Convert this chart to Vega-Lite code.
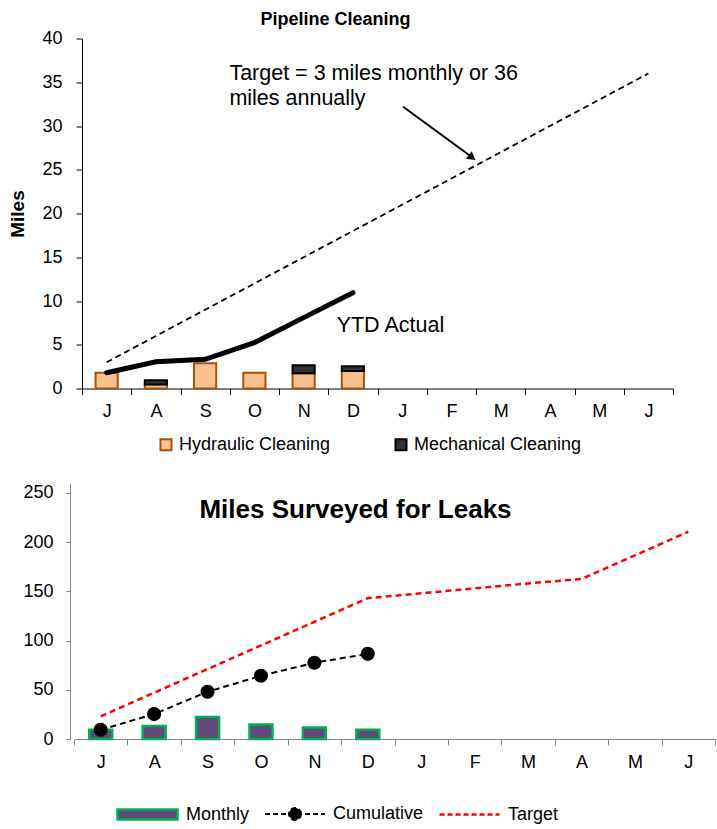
{
  "$schema": "https://vega.github.io/schema/vega-lite/v6.json",
  "padding": {"top": 10.5, "left": 8, "right": 0, "bottom": 0},
  "spacing": 28.5,
  "resolve": {"scale": {"color": "independent", "fill": "independent", "stroke": "independent"}},
  "config": {
    "font": "Liberation Sans",
    "view": {"stroke": null},
    "axis": {"labelFont": "Liberation Sans", "labelFontSize": 18, "labelColor": "black", "grid": false, "titleFont": "Liberation Sans"},
    "legend": {"labelFont": "Liberation Sans", "labelFontSize": 18, "labelColor": "black", "labelLimit": 400},
    "title": {"font": "Liberation Sans", "color": "black", "fontWeight": "bold"}
  },
  "vconcat": [
    {
      "width": 599,
      "height": 350,
      "title": {"text": "Pipeline Cleaning", "fontSize": 18, "anchor": "middle", "dx": -38, "offset": -8, "baseline": "middle"},
      "encoding": {
        "x": {
          "field": "month", "type": "ordinal",
          "sort": ["Jul","Aug","Sep","Oct","Nov","Dec","Jan","Feb","Mar","Apr","May","Jun"],
          "scale": {"domain": ["Jul","Aug","Sep","Oct","Nov","Dec","Jan","Feb","Mar","Apr","May","Jun"], "range": [8, 599], "paddingInner": 0, "paddingOuter": 0},
          "axis": {"title": null, "labelExpr": "substring(datum.label,0,1)", "labelAngle": 0, "tickBand": "extent", "domainColor": "black", "tickColor": "black", "tickSize": 6, "labelPadding": 8}
        }
      },
      "layer": [
        {
          "data": {"values": [
            {"month": "Jul", "type": "Hydraulic Cleaning", "v": 1.8},
            {"month": "Aug", "type": "Hydraulic Cleaning", "v": 0.45},
            {"month": "Aug", "type": "Mechanical Cleaning", "v": 0.5},
            {"month": "Sep", "type": "Hydraulic Cleaning", "v": 2.9},
            {"month": "Oct", "type": "Hydraulic Cleaning", "v": 1.8},
            {"month": "Nov", "type": "Hydraulic Cleaning", "v": 1.75},
            {"month": "Nov", "type": "Mechanical Cleaning", "v": 0.9},
            {"month": "Dec", "type": "Hydraulic Cleaning", "v": 2.0},
            {"month": "Dec", "type": "Mechanical Cleaning", "v": 0.55}
          ]},
          "mark": {"type": "bar", "width": {"band": 0.45}, "strokeWidth": 2},
          "encoding": {
            "y": {"field": "v", "type": "quantitative", "stack": "zero", "scale": {"domain": [0, 40]},
              "axis": {"title": "Miles", "titleFontSize": 19, "titleFontWeight": "bold", "titleColor": "black", "values": [0,5,10,15,20,25,30,35,40], "offset": -8, "domainColor": "black", "tickColor": "black", "tickSize": 6, "labelPadding": 14, "titlePadding": 14}},
            "order": {"field": "type", "type": "nominal", "sort": "ascending"},
            "fill": {"field": "type", "type": "nominal", "scale": {"domain": ["Hydraulic Cleaning", "Mechanical Cleaning"], "range": ["#FAC090", "#333333"]},
              "legend": {"orient": "none", "legendX": 83, "legendY": 397, "direction": "horizontal", "title": null, "symbolType": "square", "symbolSize": 121, "labelOffset": 4, "columnPadding": 60, "symbolStrokeWidth": 2}},
            "stroke": {"field": "type", "type": "nominal", "scale": {"domain": ["Hydraulic Cleaning", "Mechanical Cleaning"], "range": ["#A5520E", "#000000"]}, "legend": null}
          }
        },
        {
          "data": {"values": [
            {"month": "Jul", "v": 1.8}, {"month": "Aug", "v": 3.06}, {"month": "Sep", "v": 3.34},
            {"month": "Oct", "v": 5.23}, {"month": "Nov", "v": 8.1}, {"month": "Dec", "v": 10.95}
          ]},
          "mark": {"type": "line", "color": "black", "strokeWidth": 5, "strokeCap": "round"},
          "encoding": {"y": {"field": "v", "type": "quantitative"}}
        },
        {
          "data": {"values": [
            {"month": "Jul", "v": 3}, {"month": "Aug", "v": 6}, {"month": "Sep", "v": 9}, {"month": "Oct", "v": 12},
            {"month": "Nov", "v": 15}, {"month": "Dec", "v": 18}, {"month": "Jan", "v": 21}, {"month": "Feb", "v": 24},
            {"month": "Mar", "v": 27}, {"month": "Apr", "v": 30}, {"month": "May", "v": 33}, {"month": "Jun", "v": 36}
          ]},
          "mark": {"type": "line", "color": "black", "strokeWidth": 1.8, "strokeDash": [6, 4]},
          "encoding": {"y": {"field": "v", "type": "quantitative"}}
        },
        {
          "data": {"values": [
            {"month": "Oct", "v": 35.3, "t": "Target = 3 miles monthly or 36"},
            {"month": "Oct", "v": 32.45, "t": "miles annually"}
          ]},
          "mark": {"type": "text", "align": "left", "baseline": "alphabetic", "fontSize": 21.5, "dx": -25, "color": "black"},
          "encoding": {"y": {"field": "v", "type": "quantitative"}, "text": {"field": "t"}}
        },
        {
          "data": {"values": [{"month": "Nov", "v": 6.42, "t": "YTD Actual"}]},
          "mark": {"type": "text", "align": "left", "baseline": "alphabetic", "fontSize": 21.5, "dx": 33, "color": "black"},
          "encoding": {"y": {"field": "v", "type": "quantitative"}, "text": {"field": "t"}}
        },
        {
          "data": {"values": [{"month": "Jan", "month2": "Feb", "v": 32.2, "v2": 26.6}]},
          "mark": {"type": "rule", "color": "black", "strokeWidth": 2},
          "encoding": {
            "x": {"field": "month", "type": "ordinal", "bandPosition": 0.52},
            "x2": {"field": "month2", "bandPosition": 0.88},
            "y": {"field": "v", "type": "quantitative"},
            "y2": {"field": "v2"}
          }
        },
        {
          "data": {"values": [{"month": "Feb", "v": 26.5}]},
          "mark": {"type": "point", "shape": "triangle", "angle": 127, "size": 90, "filled": true, "color": "black", "opacity": 1},
          "encoding": {
            "x": {"field": "month", "type": "ordinal", "bandPosition": 0.9},
            "y": {"field": "v", "type": "quantitative"}
          }
        }
      ]
    },
    {
      "width": 641,
      "height": 256,
      "title": {"text": "Miles Surveyed for Leaks", "fontSize": 26, "anchor": "middle", "dx": -39, "offset": -53, "baseline": "middle"},
      "encoding": {
        "x": {
          "field": "month", "type": "ordinal",
          "sort": ["Jul","Aug","Sep","Oct","Nov","Dec","Jan","Feb","Mar","Apr","May","Jun"],
          "scale": {"domain": ["Jul","Aug","Sep","Oct","Nov","Dec","Jan","Feb","Mar","Apr","May","Jun"], "paddingInner": 0, "paddingOuter": 0},
          "axis": {"title": null, "labelExpr": "substring(datum.label,0,1)", "labelAngle": 0, "tickBand": "extent", "domainColor": "#868686", "tickColor": "#868686", "tickSize": 6, "labelPadding": 8}
        }
      },
      "layer": [
        {
          "data": {"values": [
            {"month": "Jul", "v": 9.5, "s": "Monthly"}, {"month": "Aug", "v": 13.3, "s": "Monthly"},
            {"month": "Sep", "v": 22.4, "s": "Monthly"}, {"month": "Oct", "v": 14.6, "s": "Monthly"},
            {"month": "Nov", "v": 11.6, "s": "Monthly"}, {"month": "Dec", "v": 9.5, "s": "Monthly"}
          ]},
          "mark": {"type": "bar", "width": {"band": 0.43}, "stroke": "#00B050", "strokeWidth": 2.5},
          "encoding": {
            "y": {"field": "v", "type": "quantitative", "scale": {"domain": [0, 250]},
              "axis": {"title": null, "values": [0, 50, 100, 150, 200, 250], "offset": 4, "domainColor": "#868686", "tickColor": "#868686", "tickSize": 4, "labelPadding": 13}},
            "fill": {"field": "s", "type": "nominal", "scale": {"domain": ["Monthly"], "range": ["#604A7B"]},
              "legend": {"orient": "none", "legendX": 42, "legendY": 320, "title": null, "symbolType": "M-1,-0.5H5V0.5H-1Z", "symbolSize": 400, "symbolStrokeColor": "#00B050", "symbolStrokeWidth": 2.5, "labelOffset": 47}}
          }
        },
        {
          "data": {"values": [
            {"month": "Jul", "v": 23, "s": "Target"}, {"month": "Aug", "v": 47, "s": "Target"}, {"month": "Sep", "v": 71, "s": "Target"},
            {"month": "Oct", "v": 95, "s": "Target"}, {"month": "Nov", "v": 119, "s": "Target"}, {"month": "Dec", "v": 143, "s": "Target"},
            {"month": "Jan", "v": 148, "s": "Target"}, {"month": "Feb", "v": 153, "s": "Target"}, {"month": "Mar", "v": 158, "s": "Target"},
            {"month": "Apr", "v": 162.5, "s": "Target"}, {"month": "May", "v": 186.5, "s": "Target"}, {"month": "Jun", "v": 210.5, "s": "Target"}
          ]},
          "mark": {"type": "line", "strokeWidth": 2.5, "strokeDash": [6, 4]},
          "encoding": {
            "y": {"field": "v", "type": "quantitative"},
            "color": {"field": "s", "type": "nominal", "scale": {"domain": ["Target"], "range": ["#FF0000"]},
              "legend": {"orient": "none", "legendX": 364, "legendY": 320, "title": null, "symbolType": "M-1,0H5", "symbolSize": 400, "symbolDash": [5, 3], "symbolStrokeWidth": 2.5, "symbolFillColor": "transparent", "labelOffset": 47}}
          }
        },
        {
          "data": {"values": [
            {"month": "Jul", "v": 9.4, "s": "Cumulative"}, {"month": "Aug", "v": 25.3, "s": "Cumulative"},
            {"month": "Sep", "v": 48, "s": "Cumulative"}, {"month": "Oct", "v": 64.2, "s": "Cumulative"},
            {"month": "Nov", "v": 77.4, "s": "Cumulative"}, {"month": "Dec", "v": 86.5, "s": "Cumulative"}
          ]},
          "mark": {"type": "line", "strokeWidth": 2, "strokeDash": [6, 4]},
          "encoding": {
            "y": {"field": "v", "type": "quantitative"},
            "stroke": {"field": "s", "type": "nominal", "scale": {"domain": ["Cumulative"], "range": ["#000000"]},
              "legend": {"orient": "none", "legendX": 190, "legendY": 320, "title": null, "symbolType": "M-1,0H5M2.6,0A0.6,0.6,0,1,1,1.4,0A0.6,0.6,0,1,1,2.6,0Z", "symbolSize": 400, "symbolDash": [5, 3], "symbolStrokeWidth": 2, "symbolFillColor": "#000000", "labelOffset": 47}}
          }
        },
        {
          "data": {"values": [
            {"month": "Jul", "v": 9.4}, {"month": "Aug", "v": 25.3},
            {"month": "Sep", "v": 48}, {"month": "Oct", "v": 64.2},
            {"month": "Nov", "v": 77.4}, {"month": "Dec", "v": 86.5}
          ]},
          "mark": {"type": "point", "filled": true, "size": 200, "opacity": 1, "color": "#000000"},
          "encoding": {"y": {"field": "v", "type": "quantitative"}}
        }
      ]
    }
  ]
}
